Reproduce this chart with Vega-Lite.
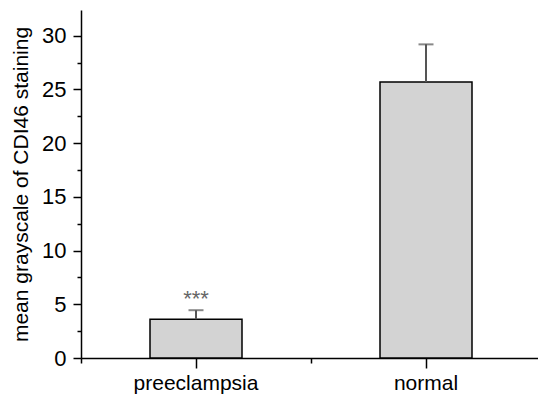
{
  "$schema": "https://vega.github.io/schema/vega-lite/v6.json",
  "autosize": {"type": "none"},
  "padding": {"left": 81, "top": 10, "right": 0, "bottom": 43},
  "width": 460,
  "height": 348,
  "background": "white",
  "config": {
    "view": {"stroke": null},
    "font": "Liberation Sans",
    "axis": {"domainColor": "black", "tickColor": "black", "labelColor": "black", "titleColor": "black", "grid": false, "domainWidth": 1.5, "tickWidth": 1.5}
  },
  "data": {
    "values": [
      {"group": "preeclampsia", "mean": 3.6, "upper": 4.45, "sig": "***"},
      {"group": "normal", "mean": 25.7, "upper": 29.2, "sig": ""}
    ]
  },
  "resolve": {"axis": {"x": "independent", "y": "independent"}},
  "layer": [
    {
      "mark": {"type": "bar", "fill": "#d3d3d3", "stroke": "black", "strokeWidth": 1.5, "width": {"band": 0.4}},
      "encoding": {
        "x": {"field": "group", "type": "nominal", "sort": null,
          "scale": {"paddingInner": 0, "paddingOuter": 0},
          "axis": {"orient": "bottom", "title": null, "labelAngle": 0, "labelFontSize": 21, "labelPadding": 4, "tickSize": 10}},
        "y": {"field": "mean", "type": "quantitative",
          "scale": {"domain": [0, 32.4], "nice": false, "zero": true},
          "axis": {"orient": "left", "title": "mean grayscale of CDI46 staining", "titleFontSize": 21, "titleFontWeight": "normal", "titlePadding": 10, "labelFontSize": 22, "labelPadding": 7, "tickSize": 8, "values": [0, 5, 10, 15, 20, 25, 30]}}
      }
    },
    {
      "mark": {"type": "rule", "color": "#555555", "strokeWidth": 2},
      "encoding": {
        "x": {"field": "group", "type": "nominal", "sort": null,
          "axis": {"orient": "bottom", "title": null, "labels": false, "domain": false, "tickBand": "extent", "tickSize": 5}},
        "y": {"field": "mean", "type": "quantitative",
          "axis": {"orient": "left", "title": null, "labels": false, "domain": false, "tickSize": 4, "values": [2.5, 7.5, 12.5, 17.5, 22.5, 27.5]}},
        "y2": {"field": "upper"}
      }
    },
    {
      "mark": {"type": "tick", "orient": "horizontal", "color": "#555555", "thickness": 2, "size": 15},
      "encoding": {
        "x": {"field": "group", "type": "nominal", "sort": null, "axis": null},
        "y": {"field": "upper", "type": "quantitative", "axis": null}
      }
    },
    {
      "mark": {"type": "text", "color": "#666666", "fontSize": 22, "baseline": "bottom", "dy": 1},
      "encoding": {
        "x": {"field": "group", "type": "nominal", "sort": null, "axis": null},
        "y": {"field": "upper", "type": "quantitative", "axis": null},
        "text": {"field": "sig"}
      }
    }
  ]
}
